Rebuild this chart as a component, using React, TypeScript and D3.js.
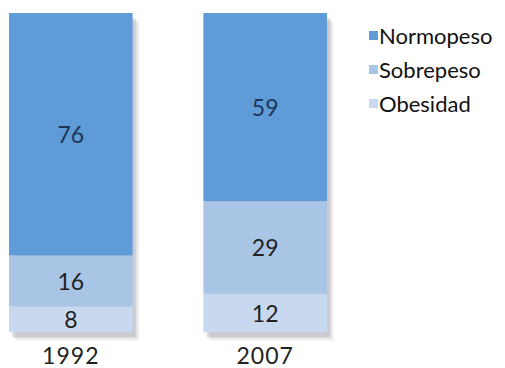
import React from "react";
import * as d3 from "d3";

const years = ["1992", "2007"];
const seriesNames = ["Obesidad", "Sobrepeso", "Normopeso"];
const obesidad = [8, 12];
const sobrepeso = [16, 29];
const normopeso = [76, 59];
const colors = ["#c8d9ef", "#a9c5e6", "#5e9bd7"];
const legendOrder = ["Normopeso", "Sobrepeso", "Obesidad"];

const W = 505, H = 368;
const FONT = "'Lato', 'Open Sans', 'DejaVu Sans', sans-serif";
const shadowLayers = [
  { d: 7, o: 0.08 },
  { d: 5, o: 0.14 },
  { d: 3, o: 0.2 },
];

export default function App() {
  const rows = years.map((y, i) => ({ year: y, Obesidad: obesidad[i], Sobrepeso: sobrepeso[i], Normopeso: normopeso[i] }));
  const stacked = d3.stack<any>().keys(seriesNames)(rows);
  const x = d3.scaleBand().domain(years).range([9, 327]).paddingInner(0.364).paddingOuter(0);
  const y = d3.scaleLinear().domain([0, 100]).range([332, 13]);
  const color = d3.scaleOrdinal<string, string>().domain(seriesNames).range(colors);
  const legendY = d3.scalePoint().domain(legendOrder).range([35, 103]);

  return (
    <svg width={W} height={H} style={{ position: "absolute", left: 0, top: 0, background: "#fff" }}>
      {years.map((yr) =>
        shadowLayers.map((l, i) => (
          <rect key={"sh" + yr + i} x={x(yr)! + l.d} y={y(100) + l.d + 2} width={x.bandwidth()} height={y(0) - y(100)}
            fill="#6f6f80" opacity={l.o} />
        ))
      )}
      {years.map((yr) => (
        <g key={yr}>
          {stacked.map((s) => {
            const d = s.find((p: any) => p.data.year === yr)!;
            return (
              <rect key={s.key} x={x(yr)} width={x.bandwidth()} y={y(d[1])} height={y(d[0]) - y(d[1])} fill={color(s.key)} />
            );
          })}
        </g>
      ))}
      {stacked.map((s) =>
        s.map((d: any) => {
          const v = d[1] - d[0];
          return (
            <text key={s.key + d.data.year} x={x(d.data.year)! + x.bandwidth() / 2} y={(y(d[0]) + y(d[1])) / 2}
              textAnchor="middle" dominantBaseline="central" fontFamily={FONT} fontSize={23} fill={s.key === "Normopeso" ? "#1d3557" : "#222"}>
              {v}
            </text>
          );
        })
      )}
      {years.map((yr) => (
        <text key={yr} x={x(yr)! + x.bandwidth() / 2} y={355} textAnchor="middle" dominantBaseline="central" fontFamily={FONT} fontSize={23} letterSpacing={1} fill="#222">
          {yr}
        </text>
      ))}
      {legendOrder.map((n) => (
        <g key={n}>
          <rect x={369} y={legendY(n)! - 4} width={9} height={9} fill={color(n)} />
          <text x={379} y={legendY(n)!} dominantBaseline="central" fontFamily={FONT} fontSize={22} fill="#111">{n}</text>
        </g>
      ))}
    </svg>
  );
}
